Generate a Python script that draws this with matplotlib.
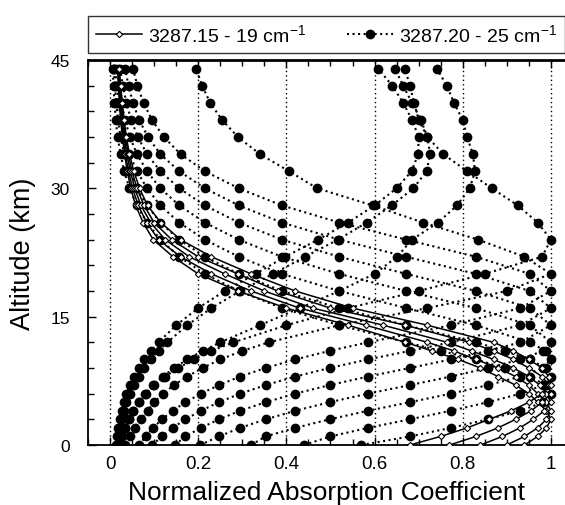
import numpy as np
import matplotlib
matplotlib.use('Agg')
import matplotlib.pyplot as plt
from matplotlib.ticker import MultipleLocator

plt.rcParams['font.family'] = ['Liberation Sans', 'DejaVu Sans']
plt.rcParams['mathtext.fontset'] = 'custom'
plt.rcParams['mathtext.rm'] = 'Liberation Sans'
plt.rcParams['mathtext.it'] = 'Liberation Sans'

# altitude grid (km)
alt = [0, 1, 2, 3, 4, 5, 6, 7, 8, 9, 10, 11, 12, 14, 16, 18, 20, 22, 24,
       26, 28, 30, 32, 34, 36, 38, 40, 42, 44]

# 3287.15 - 19 cm-1 (solid, open diamonds)
s1 = [0.94, 0.97, 0.99, 1.0, 0.99, 0.97, 0.95, 0.92, 0.88, 0.84, 0.79, 0.73, 0.67,
      0.54, 0.40, 0.29, 0.20, 0.143, 0.098, 0.075, 0.058, 0.047, 0.039, 0.033,
      0.028, 0.024, 0.021, 0.019, 0.017]
s2 = [0.90, 0.94, 0.97, 0.99, 1.0, 0.99, 0.97, 0.95, 0.92, 0.88, 0.83, 0.78, 0.72,
      0.58, 0.43, 0.32, 0.23, 0.16, 0.11, 0.083, 0.064, 0.051, 0.042, 0.035,
      0.030, 0.026, 0.023, 0.020, 0.018]
s3 = [0.84, 0.89, 0.93, 0.96, 0.985, 1.0, 0.99, 0.975, 0.95, 0.915, 0.87, 0.82, 0.765,
      0.62, 0.46, 0.35, 0.26, 0.18, 0.125, 0.092, 0.070, 0.056, 0.046, 0.038,
      0.032, 0.028, 0.024, 0.021, 0.019]
s4 = [0.77, 0.83, 0.88, 0.92, 0.955, 0.98, 1.0, 0.995, 0.98, 0.95, 0.915, 0.87, 0.815,
      0.67, 0.50, 0.38, 0.29, 0.20, 0.14, 0.10, 0.077, 0.061, 0.050, 0.041,
      0.035, 0.030, 0.026, 0.023, 0.020]
s5 = [0.68, 0.75, 0.81, 0.86, 0.91, 0.95, 0.98, 1.0, 0.995, 0.98, 0.95, 0.915, 0.87,
      0.72, 0.55, 0.42, 0.32, 0.23, 0.16, 0.115, 0.085, 0.067, 0.054, 0.044,
      0.037, 0.032, 0.028, 0.024, 0.021]

# 3287.20 - 25 cm-1 (dotted, filled circles)
d06 = [0.57, 0.68, 0.773, 0.857, 0.931, 0.982, 1.0, 0.988, 0.952, 0.895, 0.83, 0.751, 0.672,
       0.52, 0.39, 0.292, 0.215, 0.157, 0.114, 0.084, 0.061, 0.044, 0.032, 0.024,
       0.017, 0.013, 0.010, 0.008, 0.006]
d08 = [0.44, 0.50, 0.585, 0.68, 0.773, 0.857, 0.931, 0.982, 1.0, 0.988, 0.952, 0.895, 0.83,
       0.672, 0.52, 0.39, 0.292, 0.215, 0.157, 0.114, 0.084, 0.061, 0.044, 0.032,
       0.024, 0.018, 0.014, 0.011, 0.009]
d10 = [0.32, 0.353, 0.42, 0.498, 0.585, 0.68, 0.773, 0.857, 0.931, 0.982, 1.0, 0.988, 0.952,
       0.83, 0.672, 0.52, 0.39, 0.292, 0.215, 0.157, 0.114, 0.084, 0.061, 0.044,
       0.032, 0.025, 0.019, 0.015, 0.012]
d12 = [0.204, 0.247, 0.295, 0.353, 0.42, 0.498, 0.585, 0.68, 0.773, 0.857, 0.931, 0.982, 1.0,
       0.952, 0.83, 0.672, 0.52, 0.39, 0.292, 0.215, 0.157, 0.114, 0.084, 0.061,
       0.045, 0.034, 0.026, 0.021, 0.017]
d14 = [0.147, 0.171, 0.206, 0.247, 0.295, 0.353, 0.42, 0.498, 0.585, 0.68, 0.773, 0.857, 0.931,
       1.0, 0.952, 0.83, 0.672, 0.52, 0.39, 0.292, 0.215, 0.157, 0.114, 0.084,
       0.063, 0.048, 0.037, 0.029, 0.023]
d16 = [0.095, 0.118, 0.142, 0.171, 0.206, 0.247, 0.295, 0.353, 0.42, 0.498, 0.585, 0.68, 0.773,
       0.931, 1.0, 0.952, 0.83, 0.672, 0.52, 0.39, 0.292, 0.215, 0.157, 0.114,
       0.086, 0.066, 0.052, 0.042, 0.034]
d18 = [0.066, 0.081, 0.097, 0.118, 0.142, 0.171, 0.206, 0.247, 0.295, 0.353, 0.42, 0.498, 0.585,
       0.773, 0.931, 1.0, 0.952, 0.83, 0.672, 0.52, 0.39, 0.292, 0.215, 0.16,
       0.122, 0.095, 0.076, 0.062, 0.052]
d20 = [0.035, 0.045, 0.056, 0.070, 0.085, 0.10, 0.12, 0.145, 0.175, 0.21, 0.25, 0.30, 0.36,
       0.52, 0.72, 0.90, 1.0, 0.94, 0.835, 0.71, 0.596, 0.47, 0.406, 0.34,
       0.29, 0.254, 0.227, 0.209, 0.195]
d24 = [0.023, 0.028, 0.035, 0.043, 0.053, 0.066, 0.082, 0.10, 0.125, 0.155, 0.19, 0.23, 0.28,
       0.40, 0.54, 0.70, 0.85, 0.98, 1.0, 0.97, 0.925, 0.866, 0.81, 0.756,
       0.72, 0.70, 0.69, 0.68, 0.669]
dtop = [0.022, 0.028, 0.035, 0.043, 0.053, 0.065, 0.080, 0.098, 0.12, 0.145, 0.175, 0.21, 0.25,
        0.34, 0.43, 0.52, 0.60, 0.651, 0.685, 0.744, 0.787, 0.816, 0.828, 0.823,
        0.81, 0.80, 0.78, 0.764, 0.741]
dl1 = [0.014, 0.016, 0.019, 0.022, 0.026, 0.031, 0.037, 0.045, 0.054, 0.065, 0.078, 0.093, 0.11,
       0.15, 0.20, 0.26, 0.33, 0.397, 0.472, 0.54, 0.60, 0.65, 0.684, 0.699,
       0.70, 0.685, 0.665, 0.64, 0.608]
dl2 = [0.016, 0.019, 0.022, 0.026, 0.031, 0.037, 0.045, 0.054, 0.065, 0.078, 0.093, 0.11, 0.13,
       0.175, 0.23, 0.295, 0.37, 0.442, 0.517, 0.582, 0.639, 0.688, 0.718, 0.726,
       0.72, 0.705, 0.685, 0.665, 0.646]

solid = [s1, s2, s3, s4, s5]
dotted = [d06, d08, d10, d12, d14, d16, d18, d20, d24, dtop, dl1, dl2]

fig = plt.figure(figsize=(5.65, 5.06), dpi=100)
ax = fig.add_axes([88 / 565, 60 / 506, 477 / 565, 385 / 506])

for xv in [0, 0.2, 0.4, 0.6, 0.8, 1.0]:
    ax.axvline(xv, color='k', lw=1.0, ls=(0, (1, 2.2)), zorder=0)

for i, c in enumerate(dotted):
    ax.plot(c, alt, ls=':', lw=1.5, color='k', marker='o', ms=6,
            mfc='k', mec='k', zorder=2,
            label='3287.20 - 25 cm$^{-1}$' if i == 0 else None)
for i, c in enumerate(solid):
    ax.plot(c, alt, ls='-', lw=1.1, color='k', marker='D', ms=3.2,
            mfc='white', mec='k', mew=0.8, zorder=3,
            label='3287.15 - 19 cm$^{-1}$' if i == 0 else None)

ax.set_xlim(-0.05, 1.032)
ax.set_ylim(0, 45)
ax.xaxis.set_minor_locator(MultipleLocator(0.05))
ax.yaxis.set_major_locator(MultipleLocator(15))
ax.yaxis.set_minor_locator(MultipleLocator(3))
ax.set_xticks([0, 0.2, 0.4, 0.6, 0.8, 1.0])
ax.set_xticklabels(['0', '0.2', '0.4', '0.6', '0.8', '1'])
ax.tick_params(which='both', direction='in', top=True, right=False)
ax.tick_params(which='major', length=6, width=1)
ax.tick_params(which='minor', length=4, width=1)
ax.tick_params(axis='y', which='major', pad=13, labelsize=12.5)
ax.tick_params(axis='x', which='major', pad=7, labelsize=13.5)
ax.spines['right'].set_visible(False)
for s in ['left', 'bottom']:
    ax.spines[s].set_linewidth(1.3)
ax.spines['top'].set_linewidth(2.0)

ax.set_xlabel('Normalized Absorption Coefficient', fontsize=19, labelpad=6)
ax.set_ylabel('Altitude (km)', fontsize=19.5)
ax.yaxis.set_label_coords(-0.108, 0.5)

handles, labels = ax.get_legend_handles_labels()
order = [1, 0]
leg = ax.legend([handles[j] for j in order], [labels[j] for j in order],
                loc='lower left', bbox_to_anchor=(0, 1.018, 1.0, 0.104),
                mode='expand', ncol=2, borderaxespad=0, fancybox=False,
                fontsize=14, handlelength=2.4, handletextpad=0.3,
                numpoints=1, frameon=True)
leg.get_frame().set_edgecolor('k')
leg.get_frame().set_linewidth(1.0)

fig.savefig('out.png', dpi=100)
